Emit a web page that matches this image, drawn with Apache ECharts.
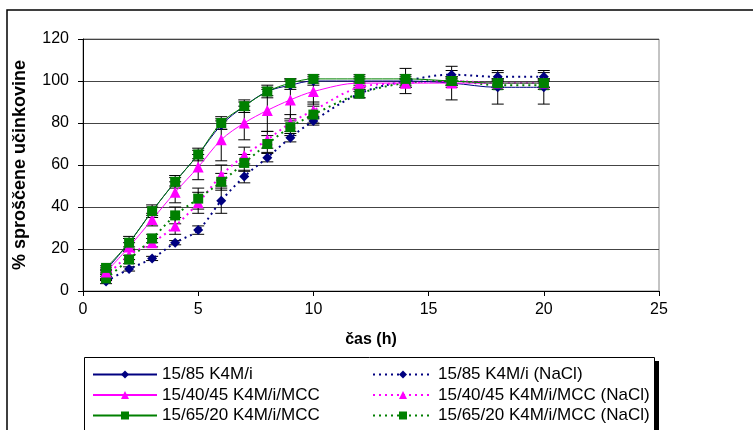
<!DOCTYPE html>
<html>
<head>
<meta charset="utf-8">
<script src="https://cdn.jsdelivr.net/npm/echarts@6/dist/echarts.min.js"></script>
<style>
  html, body { margin: 0; padding: 0; background: #fff; }
  #chart { width: 753px; height: 430px; }
</style>
</head>
<body>
<div id="chart"></div>
<script>
// time points (h)
const time = [1, 2, 3, 4, 5, 6, 7, 8, 9, 10, 12, 14, 16, 18, 20];

// % released
const k4m = [10, 23, 38, 52, 65, 79, 88, 95, 98, 100, 100, 100, 99, 97, 97];
const k4mSd = [1, 2, 2, 2, 2, 2, 2, 2, 2, 2, 2, 6, 8, 8, 8];

const mcc4045 = [9, 21, 34, 47, 59, 72, 80, 86, 91, 95, 99, 99, 99, 99, 99];
const mcc4045Sd = [1, 2, 3, 5, 6, 10, 8, 10, 10, 6, 2, 2, 2, 2, 2];

const mcc6520 = [11, 23, 38, 52, 65, 80, 88, 95, 99, 101, 101, 101, 100, 99, 99];
const mcc6520Sd = [1, 3, 3, 3, 3, 3, 3, 3, 2, 2, 2, 2, 2, 2, 2];

const k4mNa = [4.5, 10.5, 15.5, 23, 29, 43, 54.5, 63.5, 73, 81, 94, 100, 103, 102, 102];
const k4mNaSd = [1, 1, 1, 1, 2, 6, 3, 2, 2, 2, 2, 2, 2, 2, 2];

const mcc4045Na = [7, 17, 23, 31, 42, 55, 64.5, 72, 80, 86, 97, 99, 100, 99, 99];
const mcc4045NaSd = [1, 2, 2, 4, 5, 5, 4, 4, 4, 4, 2, 2, 2, 2, 2];

const mcc6520Na = [6, 15, 25, 36, 44, 52, 61, 70, 78, 84, 94, 99, 100, 98, 98];
const mcc6520NaSd = [1, 2, 2, 4, 5, 4, 4, 4, 4, 4, 2, 2, 2, 2, 2];

const namesSolid = ['15/85 K4M/i', '15/40/45 K4M/i/MCC', '15/65/20 K4M/i/MCC'];
const namesNaCl = ['15/85 K4M/i (NaCl)', '15/40/45 K4M/i/MCC (NaCl)', '15/65/20 K4M/i/MCC (NaCl)'];

const FONT = 'Liberation Sans, Arial, sans-serif';
const navy = '#000080', pink = '#FF00FF', green = '#008000';

const chart = echarts.init(document.getElementById('chart'));

function pts(vals) {
  return time.map((t, i) => [t, vals[i]]);
}
function errs(vals, sd) {
  return time.map((t, i) => [t, vals[i] - sd[i], vals[i] + sd[i]]);
}

function lineSeries(name, vals, color, symbol, size, dotted) {
  return {
    name: name,
    type: 'line',
    smooth: 0.35,
    data: pts(vals),
    symbol: symbol,
    symbolSize: size,
    z: 3,
    itemStyle: { color: color },
    lineStyle: { color: color, width: dotted ? 2 : 1, type: dotted ? [2, 4] : 'solid' },
    emphasis: { disabled: true }
  };
}

function errSeries(vals, sd) {
  return {
    type: 'custom',
    data: errs(vals, sd),
    z: 2,
    silent: true,
    renderItem: function (params, api) {
      const x = api.value(0);
      const lo = api.coord([x, api.value(1)]);
      const hi = api.coord([x, api.value(2)]);
      const w = 6;
      const st = { stroke: '#000', lineWidth: 1 };
      return {
        type: 'group',
        children: [
          { type: 'line', shape: { x1: lo[0], y1: lo[1], x2: hi[0], y2: hi[1] }, style: st },
          { type: 'line', shape: { x1: lo[0] - w, y1: lo[1], x2: lo[0] + w, y2: lo[1] }, style: st },
          { type: 'line', shape: { x1: hi[0] - w, y1: hi[1], x2: hi[0] + w, y2: hi[1] }, style: st }
        ]
      };
    }
  };
}

// one legend per entry so the two columns stay put
function legendItem(name, left, top, w) {
  return {
    data: [name],
    left: left, top: top, padding: 0,
    itemWidth: w, itemHeight: 10,
    textStyle: { fontFamily: FONT, fontSize: 17, color: '#000' },
    selectedMode: false
  };
}
const legends = [];
namesSolid.forEach((n, i) => legends.push(legendItem(n, 92, 366 + i * 20.5, 64)));
namesNaCl.forEach((n, i) => legends.push(legendItem(n, 372, 366 + i * 20.5, 60)));

const option = {
  animation: false,
  backgroundColor: '#fff',
  textStyle: { fontFamily: FONT },
  grid: {
    left: 83, right: 94, top: 39, bottom: 139,
    show: true, borderColor: '#888', borderWidth: 1
  },
  legend: legends,
  xAxis: {
    type: 'value', min: 0, max: 25, interval: 5,
    name: 'čas (h)', nameLocation: 'middle', nameGap: 41,
    nameTextStyle: { fontFamily: FONT, fontSize: 16, fontWeight: 'bold', color: '#000' },
    axisLine: { lineStyle: { color: '#000' } },
    axisTick: { show: true, length: 5, lineStyle: { color: '#000' } },
    axisLabel: { color: '#000', fontSize: 16, margin: 11, fontFamily: FONT },
    splitLine: { show: false }
  },
  yAxis: {
    type: 'value', min: 0, max: 120, interval: 20,
    name: '% sproščene učinkovine', nameLocation: 'middle', nameGap: 54,
    nameTextStyle: { fontFamily: FONT, fontSize: 18, fontWeight: 'bold', color: '#000' },
    axisLine: { show: true, lineStyle: { color: '#000' } },
    axisTick: { show: true, length: 5, lineStyle: { color: '#000' } },
    axisLabel: { color: '#000', fontSize: 16, margin: 14, fontFamily: FONT },
    splitLine: { show: true, lineStyle: { color: '#444', width: 1 } }
  },
  graphic: [
    // chart frame
    { type: 'rect', shape: { x: 7, y: 10, width: 760, height: 440 }, style: { fill: 'none', stroke: '#000', lineWidth: 1.5 }, z: 100, silent: true },
    // legend box with shadow
    { type: 'rect', shape: { x: 655, y: 361, width: 4, height: 80 }, style: { fill: '#000' }, z: 99, silent: true },
    { type: 'rect', shape: { x: 84.5, y: 357.5, width: 570, height: 90 }, style: { fill: 'none', stroke: '#000', lineWidth: 1 }, z: 100, silent: true }
  ],
  series: [
    errSeries(k4m, k4mSd),
    errSeries(mcc4045, mcc4045Sd),
    errSeries(mcc6520, mcc6520Sd),
    errSeries(k4mNa, k4mNaSd),
    errSeries(mcc4045Na, mcc4045NaSd),
    errSeries(mcc6520Na, mcc6520NaSd),
    lineSeries(namesNaCl[0], k4mNa, navy, 'diamond', 10, true),
    lineSeries(namesNaCl[1], mcc4045Na, pink, 'triangle', 11, true),
    lineSeries(namesNaCl[2], mcc6520Na, green, 'rect', 10, true),
    lineSeries(namesSolid[0], k4m, navy, 'diamond', 10, false),
    lineSeries(namesSolid[1], mcc4045, pink, 'triangle', 11, false),
    lineSeries(namesSolid[2], mcc6520, green, 'rect', 10, false)
  ]
};

chart.setOption(option);
</script>
</body>
</html>
